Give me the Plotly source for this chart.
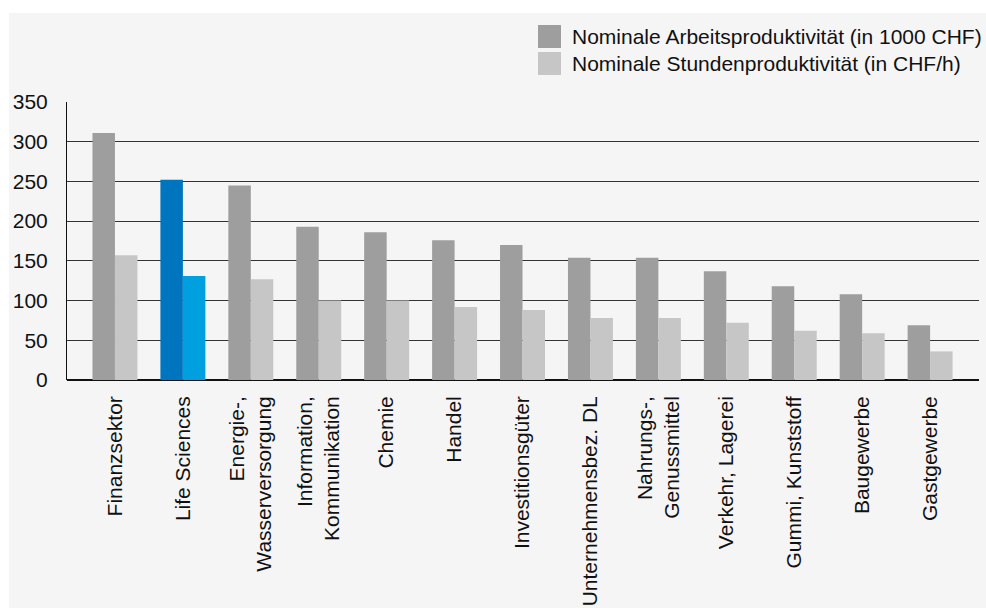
import plotly.graph_objects as go

categories = [
    "Finanzsektor", "Life Sciences", "Energie-,<br>Wasserversorgung",
    "Information,<br>Kommunikation", "Chemie", "Handel", "Investitionsgüter",
    "Unternehmensbez. DL", "Nahrungs-,<br>Genussmittel", "Verkehr, Lagerei",
    "Gummi, Kunststoff", "Baugewerbe", "Gastgewerbe",
]
arbeits = [311, 252, 245, 193, 186, 176, 170, 154, 154, 137, 118, 108, 69]
stunden = [157, 131, 127, 100, 100, 92, 88, 78, 78, 72, 62, 59, 36]
series_names = ["Nominale Arbeitsproduktivität (in 1000 CHF)",
                "Nominale Stundenproduktivität (in CHF/h)"]
y_ticks = [0, 50, 100, 150, 200, 250, 300, 350]
highlight = "Life Sciences"

DARK, LIGHT = "#9d9e9d", "#c5c6c5"
HDARK, HLIGHT = "#0075bf", "#009fe0"

c1 = [HDARK if c == highlight else DARK for c in categories]
c2 = [HLIGHT if c == highlight else LIGHT for c in categories]

W, H = 986, 608
L, R, T, B = 67, 979, 102, 380
pw, ph = R - L, B - T

def px(x):
    return (x - L) / pw

def py(y):
    return (B - y) / ph

fig = go.Figure()
fig.add_trace(go.Bar(x=categories, y=arbeits, name=series_names[0],
                     marker=dict(color=c1, line=dict(width=0)), showlegend=False))
fig.add_trace(go.Bar(x=categories, y=stunden, name=series_names[1],
                     marker=dict(color=c2, line=dict(width=0)), showlegend=False))

font = dict(family="Liberation Sans, Arial, Helvetica, sans-serif", size=21, color="#111111")

shapes = [
    dict(type="rect", xref="paper", yref="paper", x0=px(9), x1=px(W + 2), y0=py(H + 2), y1=py(13),
         fillcolor="#f5f5f5", line=dict(width=0), layer="below"),
    dict(type="rect", xref="paper", yref="paper", x0=px(538), x1=px(561), y0=py(48), y1=py(25),
         fillcolor=DARK, line=dict(width=0)),
    dict(type="rect", xref="paper", yref="paper", x0=px(538), x1=px(561), y0=py(75), y1=py(52),
         fillcolor=LIGHT, line=dict(width=0)),
]
annotations = [
    dict(text=series_names[0], xref="paper", yref="paper", x=px(570), y=py(37),
         xanchor="left", yanchor="middle", showarrow=False, font=font),
    dict(text=series_names[1], xref="paper", yref="paper", x=px(570), y=py(64),
         xanchor="left", yanchor="middle", showarrow=False, font=font),
]

fig.update_layout(
    width=W, height=H,
    margin=dict(l=L, r=W - R, t=T, b=H - B, pad=0, autoexpand=False),
    paper_bgcolor="white", plot_bgcolor="rgba(0,0,0,0)",
    barmode="group", bargap=0.338, bargroupgap=0,
    font=font,
    shapes=shapes, annotations=annotations,
    xaxis=dict(range=[-0.706, 12.72], tickangle=-90, showgrid=False,
               showline=False, ticks="", ticklabelstandoff=11, automargin=False,
               tickfont=font, fixedrange=True),
    yaxis=dict(range=[0, 350], tickvals=y_ticks, showgrid=True,
               gridcolor="#333333", gridwidth=1, zeroline=True,
               zerolinecolor="#111111", zerolinewidth=2,
               showline=True, linecolor="#111111", linewidth=1, automargin=False,
               ticks="", ticklabelstandoff=14, tickfont=font, fixedrange=True),
)

fig.write_html("out.html", config={"displayModeBar": False},
               post_script="document.body.style.margin='0';document.body.style.overflow='hidden';")
